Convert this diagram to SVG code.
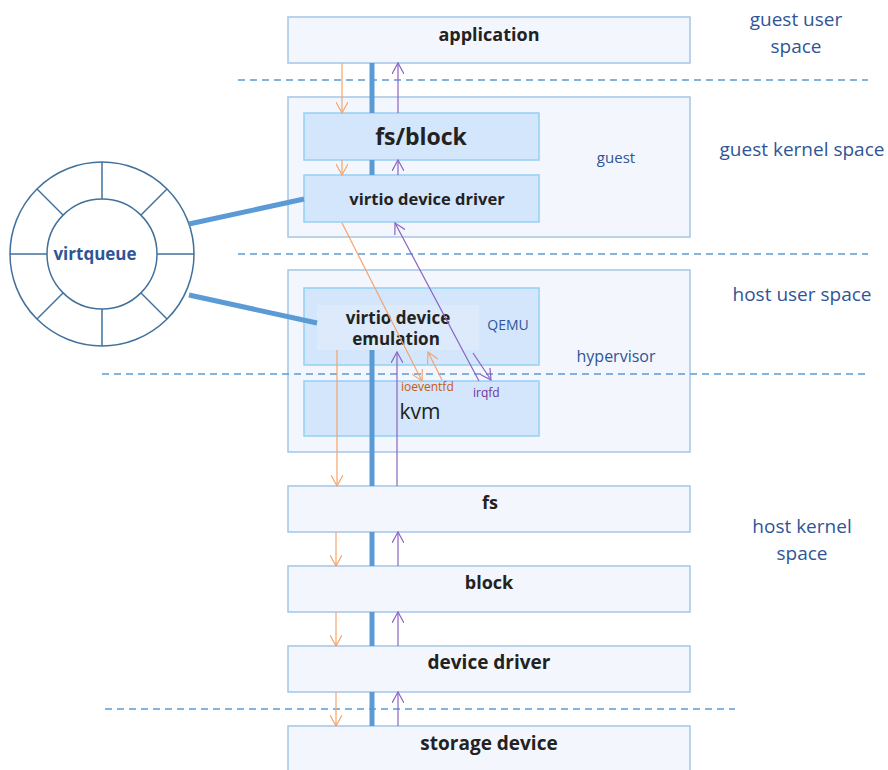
<svg xmlns="http://www.w3.org/2000/svg" width="888" height="770" viewBox="0 0 888 770">
<defs>
<style>
.outer{fill:#F3F7FD;stroke:#A4C6E8;stroke-width:1.5}
.inner{fill:#D3E6FB;stroke:#94D0F4;stroke-width:1.5}
.lbl{font-family:"Open Sans","Noto Sans",sans-serif;font-weight:bold;fill:#222222;text-anchor:middle}
.side{font-family:"Open Sans","Noto Sans",sans-serif;fill:#2F5597;font-size:19px;text-anchor:middle}
.dash{stroke:#5B9BD5;stroke-width:1.5;stroke-dasharray:7,5;fill:none}
.thick{stroke:#5B9BD5;stroke-width:5;fill:none}
.or{stroke:#F4A46F;stroke-width:1.2;fill:none;marker-end:url(#ao)}
.pu{stroke:#8A63C2;stroke-width:1.2;fill:none;marker-end:url(#ap)}
.ring{fill:none;stroke:#41719C;stroke-width:1.5}
.note{font-family:"Open Sans","Noto Sans",sans-serif;fill:#2F5597;text-anchor:middle}
</style>
<marker id="ao" viewBox="0 0 12 12" refX="11" refY="6" markerWidth="12" markerHeight="12" markerUnits="userSpaceOnUse" orient="auto"><path d="M0,0 L11,6 L0,12" fill="none" stroke="#F4A46F" stroke-width="1.2"/></marker>
<marker id="ap" viewBox="0 0 12 12" refX="11" refY="6" markerWidth="12" markerHeight="12" markerUnits="userSpaceOnUse" orient="auto"><path d="M0,0 L11,6 L0,12" fill="none" stroke="#8A63C2" stroke-width="1.2"/></marker>
</defs>
<rect width="888" height="770" fill="#FFFFFF"/>

<g id="application"><rect class="outer" x="288" y="17" width="402" height="46"/><text class="lbl" x="489" y="41" font-size="18">application</text></g>
<g id="guest"><rect class="outer" x="288" y="97" width="402" height="140"/><text class="note" x="616" y="163" font-size="15">guest</text></g>
<g id="fsblock"><rect class="inner" x="304" y="113" width="235" height="47"/><text class="lbl" x="421" y="145" font-size="23">fs/block</text></g>
<g id="driver"><rect class="inner" x="304" y="175" width="235" height="47"/><text class="lbl" x="427" y="205" font-size="16.5">virtio device driver</text></g>
<g id="hypervisor"><rect class="outer" x="288" y="270" width="402" height="182"/><text class="note" x="616" y="362" font-size="16">hypervisor</text></g>
<g id="qemu"><rect class="inner" x="304" y="288" width="235" height="77"/><text class="note" x="508" y="330" font-size="14">QEMU</text></g>
<g id="emulation"><rect x="317" y="305" width="162" height="45" fill="#DCEAFB"/><text class="lbl" x="398" y="324" font-size="17">virtio device</text><text class="lbl" x="396" y="345" font-size="17">emulation</text></g>
<g id="kvm"><rect class="inner" x="304" y="381" width="235" height="55"/><text x="420" y="419" font-family="Open Sans, Noto Sans, sans-serif" font-size="21" fill="#222222" text-anchor="middle">kvm</text></g>
<g id="fs"><rect class="outer" x="288" y="486" width="402" height="46"/><text class="lbl" x="490" y="509" font-size="18">fs</text></g>
<g id="block"><rect class="outer" x="288" y="566" width="402" height="46"/><text class="lbl" x="489" y="589" font-size="18">block</text></g>
<g id="devdriver"><rect class="outer" x="288" y="646" width="402" height="46"/><text class="lbl" x="489" y="669" font-size="19">device driver</text></g>
<g id="storage"><rect class="outer" x="288" y="726" width="402" height="50"/><text class="lbl" x="489" y="750" font-size="19">storage device</text></g>

<g id="dashes">
<line class="dash" x1="238" y1="80" x2="868" y2="80"/>
<line class="dash" x1="238" y1="254" x2="868" y2="254"/>
<line class="dash" x1="102" y1="374" x2="870" y2="374"/>
<line class="dash" x1="105" y1="709" x2="735" y2="709"/>
</g>

<g id="virtqueue">
<circle class="ring" cx="102" cy="254" r="92"/>
<circle class="ring" cx="102" cy="254" r="55"/>
<line class="ring" x1="102" y1="162" x2="102" y2="199"/>
<line class="ring" x1="102" y1="309" x2="102" y2="346"/>
<line class="ring" x1="10" y1="254" x2="47" y2="254"/>
<line class="ring" x1="157" y1="254" x2="194" y2="254"/>
<line class="ring" x1="37" y1="189" x2="63" y2="215"/>
<line class="ring" x1="141" y1="293" x2="167" y2="319"/>
<line class="ring" x1="167" y1="189" x2="141" y2="215"/>
<line class="ring" x1="63" y1="293" x2="37" y2="319"/>
<text x="95" y="260" font-family="Open Sans, Noto Sans, sans-serif" font-weight="bold" font-size="17" fill="#2F5597" text-anchor="middle">virtqueue</text>
</g>

<g id="labels">
<text class="side" x="796" y="26">guest user</text>
<text class="side" x="796" y="53">space</text>
<text class="side" x="802" y="156">guest kernel space</text>
<text class="side" x="802" y="301">host user space</text>
<text class="side" x="802" y="533">host kernel</text>
<text class="side" x="802" y="560">space</text>
<text x="401" y="391" font-family="Open Sans, Noto Sans, sans-serif" font-size="12" fill="#C55A11">ioeventfd</text>
<text x="473" y="397" font-family="Open Sans, Noto Sans, sans-serif" font-size="12" fill="#7030A0">irqfd</text>
</g>

<g id="connectors">
<line class="thick" x1="189" y1="224" x2="304" y2="199"/>
<line class="thick" x1="189" y1="295" x2="317" y2="323"/>
<line class="thick" x1="372" y1="63" x2="372" y2="113"/>
<line class="thick" x1="372" y1="160" x2="372" y2="175"/>
<line class="thick" x1="372" y1="350" x2="372" y2="486"/>
<line class="thick" x1="372" y1="532" x2="372" y2="566"/>
<line class="thick" x1="372" y1="612" x2="372" y2="646"/>
<line class="thick" x1="372" y1="692" x2="372" y2="726"/>

<line class="or" x1="342" y1="63" x2="342" y2="113"/>
<line class="or" x1="342" y1="160" x2="342" y2="175"/>
<line class="pu" x1="398" y1="113" x2="398" y2="63"/>
<line class="pu" x1="398" y1="175" x2="398" y2="160"/>

<line class="or" x1="342" y1="223" x2="422" y2="381"/>
<line class="or" x1="442" y1="380" x2="428" y2="352"/>
<line class="pu" x1="479" y1="381" x2="395" y2="223"/>
<line class="pu" x1="473" y1="353" x2="491" y2="380"/>

<line class="or" x1="337" y1="350" x2="337" y2="486"/>
<line class="pu" x1="397" y1="486" x2="397" y2="352"/>

<line class="or" x1="336" y1="532" x2="336" y2="566"/>
<line class="or" x1="336" y1="612" x2="336" y2="646"/>
<line class="or" x1="336" y1="692" x2="336" y2="726"/>
<line class="pu" x1="398" y1="566" x2="398" y2="532"/>
<line class="pu" x1="398" y1="646" x2="398" y2="612"/>
<line class="pu" x1="398" y1="726" x2="398" y2="692"/>
</g>
</svg>
